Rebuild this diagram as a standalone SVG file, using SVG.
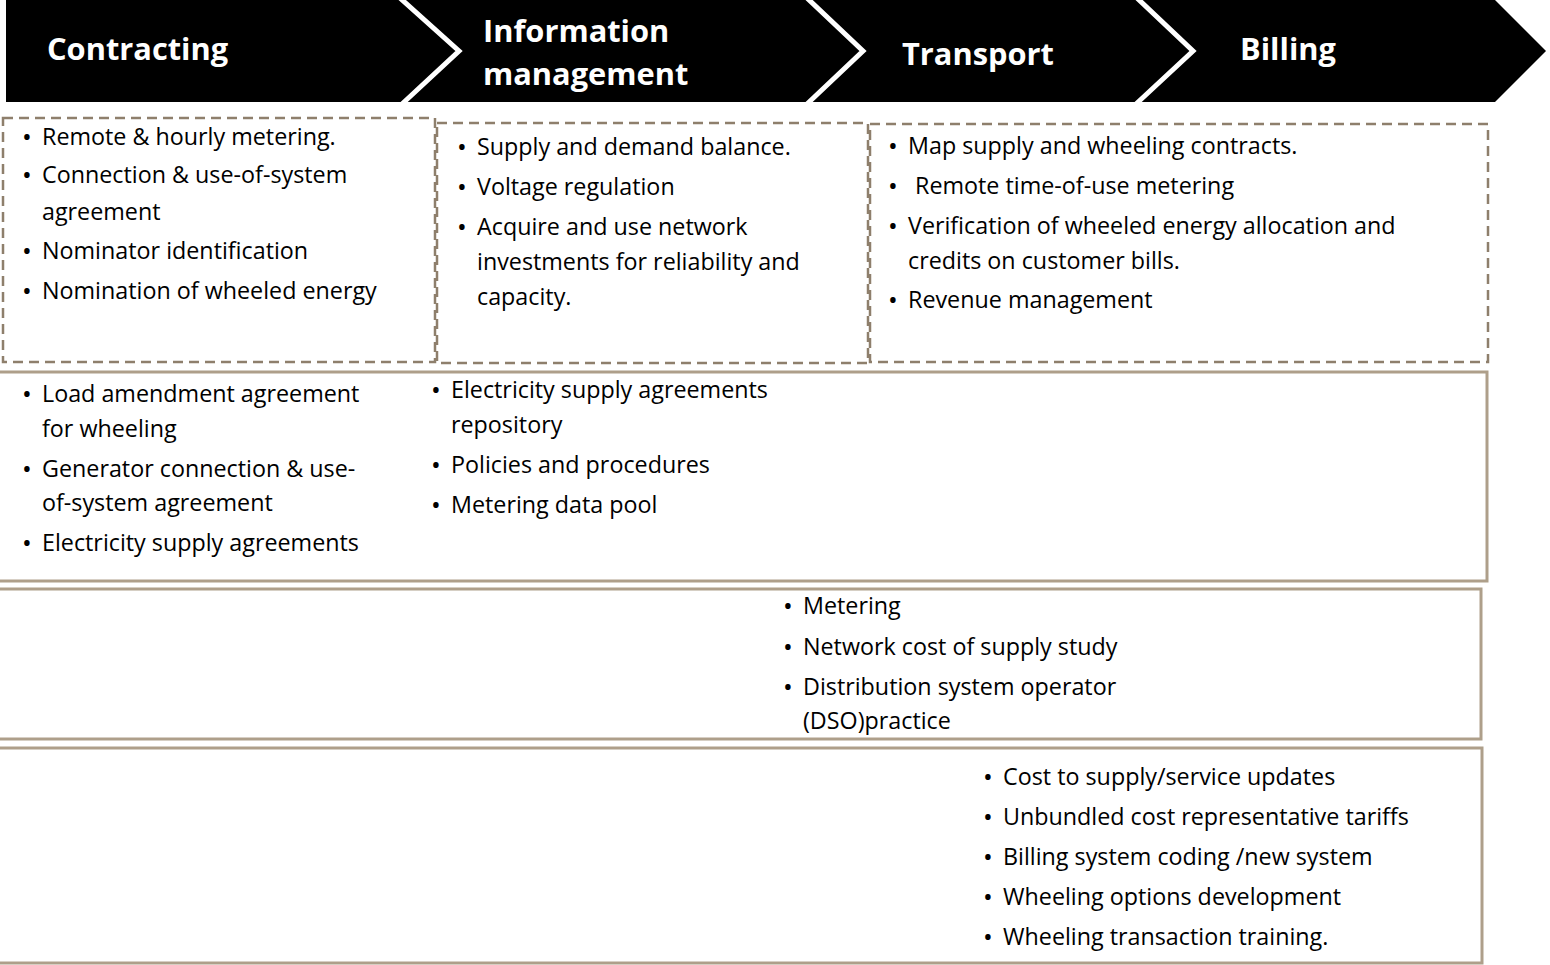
<svg xmlns="http://www.w3.org/2000/svg" width="1550" height="965" viewBox="0 0 1550 965">
<style>
.hd{font-family:"Open Sans","Liberation Sans",sans-serif;font-weight:bold;font-size:30.8px;fill:#ffffff}
.tx{font-family:"Open Sans","Liberation Sans",sans-serif;font-size:23.3px;fill:#000000}
.bu{font-family:"Open Sans","Liberation Sans",sans-serif;font-size:26px;fill:#000000}
.dash{fill:none;stroke:#8e7f6c;stroke-width:2.5;stroke-dasharray:10 6}
.solid{fill:none;stroke:#ae9f8a;stroke-width:3}
.sep{fill:none;stroke:#ffffff;stroke-width:5}
</style>
<rect width="1550" height="965" fill="#ffffff"/>
<g id="header">
<polygon points="6,0 1495,0 1546,51 1495,102 6,102" fill="#000000"/>
<polyline class="sep" points="400,-2 459,51 402,104"/>
<polyline class="sep" points="807,-2 863,51 807,104"/>
<polyline class="sep" points="1137,-2 1193,51 1136,104"/>
<text class="hd" x="47" y="60">Contracting</text>
<text class="hd" x="483" y="42">Information</text>
<text class="hd" x="483" y="85">management</text>
<text class="hd" x="902" y="65">Transport</text>
<text class="hd" x="1240" y="60">Billing</text>
</g>
<g id="contracting-box">
<rect class="dash" x="3" y="118" width="432" height="244"/>
<text class="bu" x="22" y="146">•</text><text class="tx" x="42" y="145">Remote &amp; hourly metering.</text>
<text class="bu" x="22" y="184">•</text><text class="tx" x="42" y="183">Connection &amp; use-of-system</text>
<text class="tx" x="42" y="220">agreement</text>
<text class="bu" x="22" y="260">•</text><text class="tx" x="42" y="259">Nominator identification</text>
<text class="bu" x="22" y="300">•</text><text class="tx" x="42" y="299">Nomination of wheeled energy</text>
</g>
<g id="information-box">
<rect class="dash" x="437" y="123" width="431" height="240"/>
<text class="bu" x="457" y="156">•</text><text class="tx" x="477" y="155">Supply and demand balance.</text>
<text class="bu" x="457" y="196">•</text><text class="tx" x="477" y="195">Voltage regulation</text>
<text class="bu" x="457" y="236">•</text><text class="tx" x="477" y="235">Acquire and use network</text>
<text class="tx" x="477" y="270">investments for reliability and</text>
<text class="tx" x="477" y="305">capacity.</text>
</g>
<g id="transport-box">
<rect class="dash" x="870" y="124" width="618" height="238"/>
<text class="bu" x="888" y="155">•</text><text class="tx" x="908" y="154">Map supply and wheeling contracts.</text>
<text class="bu" x="888" y="195">•</text><text class="tx" x="915" y="194">Remote time-of-use metering</text>
<text class="bu" x="888" y="235">•</text><text class="tx" x="908" y="234">Verification of wheeled energy allocation and</text>
<text class="tx" x="908" y="269">credits on customer bills.</text>
<text class="bu" x="888" y="309">•</text><text class="tx" x="908" y="308">Revenue management</text>
</g>
<g id="row2-box">
<rect class="solid" x="-5" y="372" width="1492" height="209"/>
<text class="bu" x="22" y="403">•</text><text class="tx" x="42" y="402">Load amendment agreement</text>
<text class="tx" x="42" y="437">for wheeling</text>
<text class="bu" x="22" y="478">•</text><text class="tx" x="42" y="477">Generator connection &amp; use-</text>
<text class="tx" x="42" y="511">of-system agreement</text>
<text class="bu" x="22" y="552">•</text><text class="tx" x="42" y="551">Electricity supply agreements</text>
<text class="bu" x="431" y="399">•</text><text class="tx" x="451" y="398">Electricity supply agreements</text>
<text class="tx" x="451" y="433">repository</text>
<text class="bu" x="431" y="474">•</text><text class="tx" x="451" y="473">Policies and procedures</text>
<text class="bu" x="431" y="514">•</text><text class="tx" x="451" y="513">Metering data pool</text>
</g>
<g id="row3-box">
<rect class="solid" x="-5" y="589" width="1486" height="150"/>
<text class="bu" x="783" y="615">•</text><text class="tx" x="803" y="614">Metering</text>
<text class="bu" x="783" y="656">•</text><text class="tx" x="803" y="655">Network cost of supply study</text>
<text class="bu" x="783" y="696">•</text><text class="tx" x="803" y="695">Distribution system operator</text>
<text class="tx" x="803" y="729">(DSO)practice</text>
</g>
<g id="row4-box">
<rect class="solid" x="-5" y="748" width="1487" height="215"/>
<text class="bu" x="983" y="786">•</text><text class="tx" x="1003" y="785">Cost to supply/service updates</text>
<text class="bu" x="983" y="826">•</text><text class="tx" x="1003" y="825">Unbundled cost representative tariffs</text>
<text class="bu" x="983" y="866">•</text><text class="tx" x="1003" y="865">Billing system coding /new system</text>
<text class="bu" x="983" y="906">•</text><text class="tx" x="1003" y="905">Wheeling options development</text>
<text class="bu" x="983" y="946">•</text><text class="tx" x="1003" y="945">Wheeling transaction training.</text>
</g>
<g id="connectors"></g>
</svg>
